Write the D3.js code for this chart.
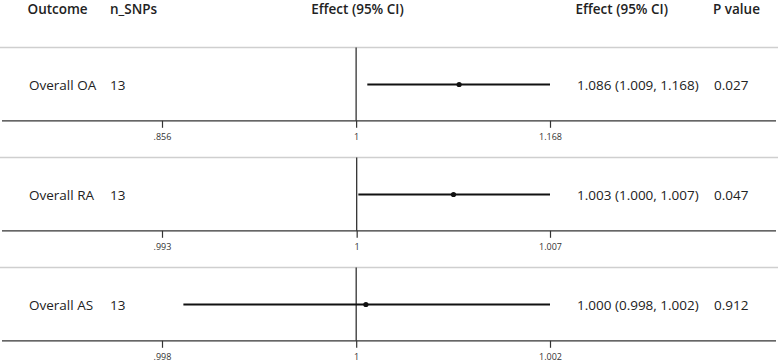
<!DOCTYPE html>
<html>
<head>
<meta charset="utf-8">
<script src="https://cdn.jsdelivr.net/npm/d3@7"></script>
<style>
  body { margin: 0; background: #fff; }
  svg { display: block; font-family: "Open Sans", "Noto Sans", sans-serif; }
</style>
</head>
<body>
<div id="forest"></div>
<script>
// DATA
const outcomes = ["Overall OA", "Overall RA", "Overall AS"];
const nSnps = [13, 13, 13];
const estimates = [1.086, 1.0035, 1.0001];
const lowerCI = [1.009, 1.00006, 0.99822];
const upperCI = [1.168, 1.007, 1.002];
const effectLabels = ["1.086 (1.009, 1.168)", "1.003 (1.000, 1.007)", "1.000 (0.998, 1.002)"];
const pValues = ["0.027", "0.047", "0.912"];
const tickValues = [[0.856, 1, 1.168], [0.993, 1, 1.007], [0.998, 1, 1.002]];
const tickLabels = [[".856", "1", "1.168"], [".993", "1", "1.007"], [".998", "1", "1.002"]];

const W = 778, H = 363;
const svg = d3.select("#forest").append("svg")
    .attr("width", W)
    .attr("height", H);

// header
const header = [
    { text: "Outcome", x: 27.5, anchor: "start" },
    { text: "n_SNPs", x: 110, anchor: "start" },
    { text: "Effect (95% CI)", x: 357.5, anchor: "middle" },
    { text: "Effect (95% CI)", x: 575.5, anchor: "start" },
    { text: "P value", x: 713, anchor: "start" }
];
svg.selectAll(".hdr")
    .data(header)
    .join("text")
    .attr("class", "hdr")
    .attr("x", d => d.x)
    .attr("y", 14)
    .attr("text-anchor", d => d.anchor)
    .attr("font-size", "13.5px")
    .attr("font-weight", "600")
    .attr("fill", "#222")
    .text(d => d.text);

// panel layout
const panelY = d3.scaleBand()
    .domain(d3.range(outcomes.length))
    .range([47.5, 47.5 + 110 * outcomes.length])
    .paddingInner(0);

const rowOffset = 37;
const axisOffset = 73.3;

outcomes.forEach((name, i) => {
    const top = panelY(i);
    const rowY = top + rowOffset;
    const axisY = top + axisOffset;

    const x = d3.scaleLog()
        .domain([tickValues[i][0], tickValues[i][2]])
        .range([162, 550]);

    const g = svg.append("g");

    // light separator on top of panel
    g.append("line")
        .attr("x1", 0).attr("x2", W)
        .attr("y1", top).attr("y2", top)
        .attr("stroke", "#cfcfcf")
        .attr("stroke-width", 1.5);

    // full-width axis line
    g.append("line")
        .attr("x1", 2).attr("x2", 776)
        .attr("y1", axisY).attr("y2", axisY)
        .attr("stroke", "#333")
        .attr("stroke-width", 1.3);

    // null line at 1
    g.append("line")
        .attr("x1", x(1)).attr("x2", x(1))
        .attr("y1", top).attr("y2", axisY)
        .attr("stroke", "#333")
        .attr("stroke-width", 1.3);

    // axis ticks
    const axis = d3.axisBottom(x)
        .tickValues(tickValues[i])
        .tickSize(7)
        .tickPadding(6)
        .tickFormat((d, k) => tickLabels[i][k]);

    const ax = g.append("g")
        .attr("transform", `translate(0,${axisY})`)
        .call(axis);
    ax.select(".domain").remove();
    ax.selectAll(".tick line")
        .attr("stroke", "#333")
        .attr("stroke-width", 1.2);
    ax.selectAll(".tick text")
        .attr("font-family", "\"Open Sans\", sans-serif")
        .attr("font-size", "9px")
        .attr("fill", "#333");

    // confidence interval
    g.append("line")
        .attr("x1", x(lowerCI[i])).attr("x2", x(upperCI[i]))
        .attr("y1", rowY).attr("y2", rowY)
        .attr("stroke", "#111")
        .attr("stroke-width", 2);

    // point estimate
    g.append("circle")
        .attr("cx", x(estimates[i]))
        .attr("cy", rowY)
        .attr("r", 2.6)
        .attr("fill", "#111");

    // row text
    const rowText = [
        { text: name, x: 29 },
        { text: nSnps[i], x: 110 },
        { text: effectLabels[i], x: 577 },
        { text: pValues[i], x: 714 }
    ];
    g.selectAll(".row-text")
        .data(rowText)
        .join("text")
        .attr("class", "row-text")
        .attr("x", d => d.x)
        .attr("y", rowY + 5)
        .attr("font-size", "13.5px")
        .attr("fill", "#222")
        .text(d => d.text);
});
</script>
</body>
</html>
